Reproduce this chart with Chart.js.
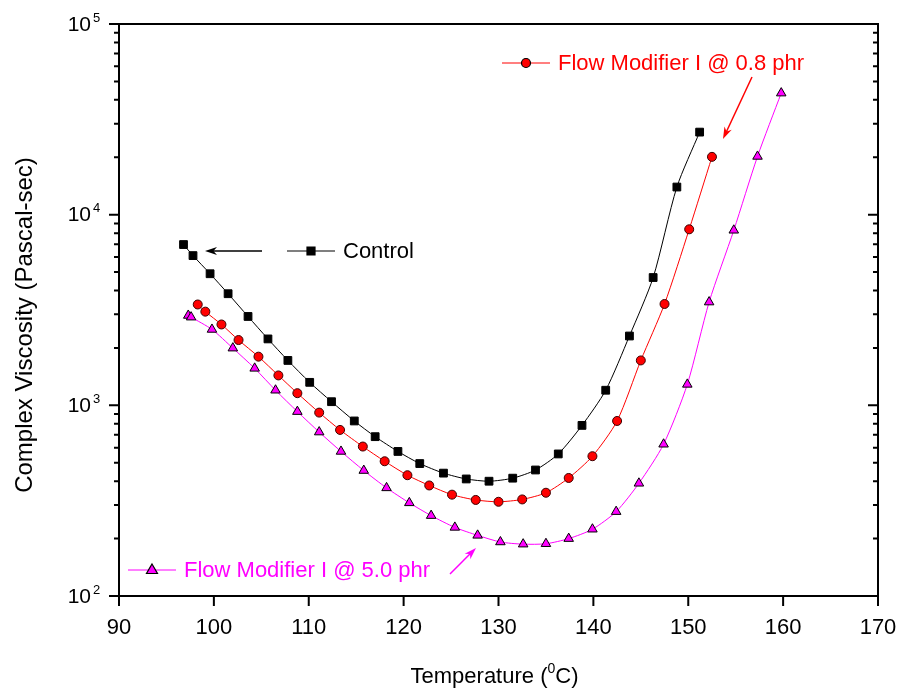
<!DOCTYPE html>
<html>
<head>
<meta charset="utf-8">
<script src="https://cdn.jsdelivr.net/npm/chart.js@4/dist/chart.umd.min.js"></script>
<style>
  html, body { margin: 0; padding: 0; background: #fff; }
</style>
</head>
<body>
<canvas id="viscosity-chart" width="898" height="690"></canvas>
<script>
// Complex viscosity vs temperature, three formulations
const controlTemp = [96.8, 97.8, 99.6, 101.5, 103.6, 105.7, 107.8, 110.1, 112.4, 114.8, 117.0, 119.4, 121.7,
    124.2, 126.6, 129.0, 131.5, 133.9, 136.3, 138.8, 141.3, 143.8, 146.3, 148.8, 151.2];
const controlVisc = [6970, 6100, 4900, 3850, 2925, 2230, 1720, 1320, 1045, 828, 685, 573, 495,
    441, 411, 400, 415, 458, 556, 785, 1200, 2310, 4680, 13960, 27100];

const fm08Temp = [98.3, 99.1, 100.8, 102.6, 104.7, 106.8, 108.8, 111.1, 113.3, 115.7, 118.0, 120.4, 122.7,
    125.1, 127.6, 130.0, 132.5, 135.0, 137.4, 139.9, 142.5, 145.0, 147.5, 150.1, 152.5];
const fm08Visc = [3380, 3100, 2655, 2200, 1800, 1435, 1158, 916, 743, 608, 509, 430, 380,
    340, 319, 312, 321, 348, 416, 541, 828, 1720, 3400, 8380, 20100];

const fm50Temp = [97.3, 97.6, 99.8, 102.0, 104.3, 106.5, 108.8, 111.1, 113.4, 115.8, 118.2, 120.6, 122.9, 125.4,
    127.8, 130.2, 132.6, 135.0, 137.4, 139.9, 142.4, 144.8, 147.4, 149.9, 152.2, 154.8, 157.3, 159.8];
const fm50Visc = [2960, 2900, 2500, 1995, 1563, 1200, 927, 724, 573, 455, 369, 308, 264, 229,
    208, 192, 187, 188, 200, 224, 277, 390, 625, 1288, 3480, 8280, 20200, 43400];

const xTicks = [90, 100, 110, 120, 130, 140, 150, 160, 170];
const yDecades = [2, 3, 4, 5];

const FONT = "'Liberation Sans', Arial, sans-serif";

function toPoints(xs, ys) {
    return xs.map((x, i) => ({ x: x, y: ys[i] }));
}

function drawMarker(ctx, style, x, y, fill, stroke) {
    ctx.save();
    ctx.fillStyle = fill;
    ctx.strokeStyle = stroke;
    ctx.lineWidth = 1.2;
    ctx.beginPath();
    if (style === 'rect') {
        ctx.rect(x - 4, y - 4, 8, 8);
    } else if (style === 'circle') {
        ctx.arc(x, y, 4.5, 0, Math.PI * 2);
    } else {
        ctx.moveTo(x, y - 6);
        ctx.lineTo(x + 5.5, y + 3.5);
        ctx.lineTo(x - 5.5, y + 3.5);
        ctx.closePath();
    }
    ctx.fill();
    ctx.stroke();
    ctx.restore();
}

function drawArrow(ctx, x1, y1, x2, y2, color) {
    const a = Math.atan2(y2 - y1, x2 - x1);
    const len = 12, w = 4;
    const c = Math.cos(a), s = Math.sin(a);
    ctx.save();
    ctx.strokeStyle = color;
    ctx.fillStyle = color;
    ctx.lineWidth = 1.5;
    ctx.beginPath();
    ctx.moveTo(x1, y1);
    ctx.lineTo(x2 - len * 0.6 * c, y2 - len * 0.6 * s);
    ctx.stroke();
    ctx.beginPath();
    ctx.moveTo(x2, y2);
    ctx.lineTo(x2 - len * c + w * s, y2 - len * s - w * c);
    ctx.lineTo(x2 - len * 0.7 * c, y2 - len * 0.7 * s);
    ctx.lineTo(x2 - len * c - w * s, y2 - len * s + w * c);
    ctx.closePath();
    ctx.fill();
    ctx.restore();
}

function legendEntry(ctx, x, y, style, lineColor, fill, stroke, label) {
    ctx.save();
    ctx.strokeStyle = lineColor;
    ctx.lineWidth = 1.2;
    ctx.beginPath();
    ctx.moveTo(x, y);
    ctx.lineTo(x + 48, y);
    ctx.stroke();
    drawMarker(ctx, style, x + 24, y, fill, stroke);
    ctx.fillStyle = lineColor;
    ctx.font = '22px ' + FONT;
    ctx.textAlign = 'left';
    ctx.textBaseline = 'middle';
    ctx.fillText(label, x + 56, y + 1);
    ctx.restore();
}

// frame, ticks, tick labels, axis titles and the in-plot labels
const decorations = {
    id: 'decorations',
    afterDraw(chart) {
        const ctx = chart.ctx;
        const area = chart.chartArea;
        const xs = chart.scales.x, ys = chart.scales.y;

        ctx.save();
        ctx.strokeStyle = '#000';
        ctx.lineWidth = 2;
        ctx.strokeRect(area.left, area.top, area.right - area.left, area.bottom - area.top);

        // log axis ticks, outward on the left, inward on the right
        ctx.beginPath();
        yDecades.forEach(e => {
            const majorY = ys.getPixelForValue(Math.pow(10, e));
            ctx.moveTo(area.left - 10, majorY); ctx.lineTo(area.left, majorY);
            ctx.moveTo(area.right, majorY); ctx.lineTo(area.right - 10, majorY);
            if (e < 5) {
                for (let m = 2; m <= 9; m++) {
                    const py = ys.getPixelForValue(m * Math.pow(10, e));
                    ctx.moveTo(area.left - 5, py); ctx.lineTo(area.left, py);
                    ctx.moveTo(area.right, py); ctx.lineTo(area.right - 5, py);
                }
            }
        });
        xTicks.forEach(t => {
            const px = xs.getPixelForValue(t);
            ctx.moveTo(px, area.bottom); ctx.lineTo(px, area.bottom + 10);
        });
        ctx.stroke();

        ctx.fillStyle = '#000';
        ctx.textBaseline = 'middle';

        // y labels as 10 with a raised exponent
        yDecades.forEach(e => {
            const py = ys.getPixelForValue(Math.pow(10, e));
            ctx.font = '21px ' + FONT;
            ctx.textAlign = 'right';
            ctx.fillText('10', area.left - 28, py + 1);
            ctx.font = '13px ' + FONT;
            ctx.textAlign = 'left';
            ctx.fillText(String(e), area.left - 26, py - 6);
        });

        ctx.font = '22px ' + FONT;
        ctx.textAlign = 'center';
        xTicks.forEach(t => {
            ctx.fillText(String(t), xs.getPixelForValue(t), area.bottom + 32);
        });

        // x title with superscript degree zero
        const cx = (area.left + area.right) / 2 - 4;
        ctx.font = '22px ' + FONT;
        const partA = 'Temperature (', partC = 'C)';
        const wA = ctx.measureText(partA).width, wC = ctx.measureText(partC).width;
        ctx.font = '14px ' + FONT;
        const wB = ctx.measureText('0').width;
        const sx = cx - (wA + wB + wC) / 2;
        const ty = 677;
        ctx.textAlign = 'left';
        ctx.font = '22px ' + FONT;
        ctx.fillText(partA, sx, ty);
        ctx.font = '14px ' + FONT;
        ctx.fillText('0', sx + wA, ty - 8);
        ctx.font = '22px ' + FONT;
        ctx.fillText(partC, sx + wA + wB, ty);

        // y title
        ctx.save();
        ctx.translate(25, 325);
        ctx.rotate(-Math.PI / 2);
        ctx.textAlign = 'center';
        ctx.font = '24px ' + FONT;
        ctx.fillText('Complex Viscosity (Pascal-sec)', 0, 0);
        ctx.restore();

        // labels inside the plot
        legendEntry(ctx, 287, 251, 'rect', '#000', '#000', '#000', 'Control');
        drawArrow(ctx, 262, 251, 205, 251, '#000');
        legendEntry(ctx, 502, 63, 'circle', '#ff0000', '#ff0000', '#000', 'Flow Modifier I @ 0.8 phr');
        drawArrow(ctx, 752, 77, 723, 139, '#ff0000');
        legendEntry(ctx, 128, 570, 'triangle', '#ff00ff', '#ff00ff', '#000', 'Flow Modifier I @ 5.0 phr');
        drawArrow(ctx, 450, 574, 476, 548, '#ff00ff');

        ctx.restore();
    }
};

const ctx1 = document.getElementById('viscosity-chart').getContext('2d');
const viscosityChart = new Chart(ctx1, {
    type: 'scatter',
    data: {
        datasets: [{
            label: 'Control',
            data: toPoints(controlTemp, controlVisc),
            showLine: true,
            borderColor: '#000',
            borderWidth: 1,
            tension: 0.25,
            pointStyle: 'rect',
            pointRadius: 5.5,
            pointBackgroundColor: '#000',
            pointBorderColor: '#000',
            pointBorderWidth: 1
        }, {
            label: 'Flow Modifier I @ 0.8 phr',
            data: toPoints(fm08Temp, fm08Visc),
            showLine: true,
            borderColor: '#ff0000',
            borderWidth: 1,
            tension: 0.25,
            pointStyle: 'circle',
            pointRadius: 4.5,
            pointBackgroundColor: '#ff0000',
            pointBorderColor: '#3a0000',
            pointBorderWidth: 1
        }, {
            label: 'Flow Modifier I @ 5.0 phr',
            data: toPoints(fm50Temp, fm50Visc),
            showLine: true,
            borderColor: '#ff00ff',
            borderWidth: 1,
            tension: 0.25,
            pointStyle: 'triangle',
            pointRadius: 5.5,
            pointBackgroundColor: '#ff00ff',
            pointBorderColor: '#000',
            pointBorderWidth: 1
        }]
    },
    options: {
        responsive: false,
        animation: false,
        devicePixelRatio: 1,
        layout: { padding: { top: 24, right: 20, left: 0, bottom: 0 } },
        plugins: {
            legend: { display: false },
            tooltip: { enabled: false }
        },
        scales: {
            x: {
                type: 'linear',
                min: 90,
                max: 170,
                grid: { display: false },
                border: { display: false },
                ticks: { display: false },
                afterFit: s => { s.height = 94; }
            },
            y: {
                type: 'logarithmic',
                min: 100,
                max: 100000,
                grid: { display: false },
                border: { display: false },
                ticks: { display: false },
                afterFit: s => { s.width = 119; }
            }
        }
    },
    plugins: [decorations]
});
</script>
</body>
</html>
